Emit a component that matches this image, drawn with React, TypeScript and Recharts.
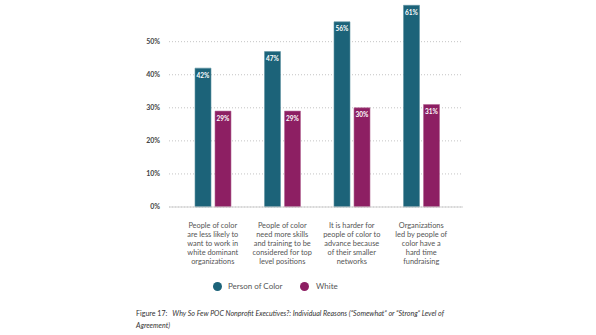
import React from "react";
import { BarChart, Bar, XAxis, YAxis, CartesianGrid, LabelList, Legend } from "recharts";

const categories = [
  "People of color are less likely to want to work in white dominant organizations",
  "People of color need more skills and training to be considered for top level positions",
  "It is harder for people of color to advance because of their smaller networks",
  "Organizations led by people of color have a hard time fundraising",
];
const categoryLines: string[][] = [
  ["People of color", "are less likely to", "want to work in", "white dominant", "organizations"],
  ["People of color", "need more skills", "and training to be", "considered for top", "level positions"],
  ["It is harder for", "people of color to", "advance because", "of their smaller", "networks"],
  ["Organizations", "led by people of", "color have a", "hard time", "fundraising"],
];
const personOfColor = [42, 47, 56, 61];
const white = [29, 29, 30, 31];
const yTicks = [0, 10, 20, 30, 40, 50];

const POC = "#1c6379";
const WHITE = "#8d1f63";
const FONT = "Lato, 'Open Sans', sans-serif";

const data = categories.map((c, i) => ({
  idx: i,
  name: c,
  poc: personOfColor[i],
  white: white[i],
}));

const CatTick = (props: any) => {
  const { x, y, payload } = props;
  const lines = categoryLines[payload.index] || [];
  return (
    <g>
      {lines.map((l, i) => (
        <text
          key={i}
          x={x}
          y={y + i * 9}
          textAnchor="middle"
          fontSize={7.4}
          fill="#555"
          fontFamily={FONT}
        >
          {l}
        </text>
      ))}
    </g>
  );
};

const LegendContent = () => (
  <div style={{ position: "relative", width: 596, height: 14, fontFamily: FONT, fontSize: 8, color: "#555" }}>
    <span style={{ position: "absolute", left: 213, top: 2, width: 9, height: 9, borderRadius: 5, background: POC }} />
    <span style={{ position: "absolute", left: 228, top: 1 }}>Person of Color</span>
    <span style={{ position: "absolute", left: 300, top: 2, width: 9, height: 9, borderRadius: 5, background: WHITE }} />
    <span style={{ position: "absolute", left: 316, top: 1 }}>White</span>
  </div>
);

export default function App() {
  return (
    <div style={{ position: "absolute", left: 0, top: 0, width: 596, height: 335, background: "#fff" }}>
      <BarChart
        width={596}
        height={335}
        data={data}
        margin={{ top: 2, right: 133, bottom: 58, left: 0 }}
        barSize={16}
        barGap={4}
        barCategoryGap={17}
      >
        <CartesianGrid vertical={false} syncWithTicks={true} stroke="#c4c4c4" strokeDasharray="1 2" />
        <XAxis
          dataKey="idx"
          type="category"
          height={70}
          tick={<CatTick />}
          tickLine={false}
          tickSize={0}
          tickMargin={21}
          axisLine={{ stroke: "#cfcfcf" }}
          padding={{ left: 9, right: 7 }}
          interval={0}
        />
        <YAxis
          width={169}
          domain={[0, 62]}
          ticks={yTicks}
          tickFormatter={(v: number) => `${v}%`}
          axisLine={false}
          tickLine={false}
          tickSize={0}
          tickMargin={9}
          tick={{ fontSize: 7, fontWeight: 700, fill: "#444", fontFamily: FONT }}
        />
        <Legend
          layout="vertical"
          align="center"
          verticalAlign="middle"
          content={<LegendContent />}
          wrapperStyle={{ position: "absolute", left: 0, top: 280, width: 596 }}
        />
        <Bar dataKey="poc" name="Person of Color" fill={POC} stroke="#5f93a3" strokeWidth={0.6} isAnimationActive={false}>
          <LabelList
            dataKey="poc"
            position="insideTop"
            offset={5}
            formatter={(v: any) => `${v}%`}
            style={{ fill: "#fff", fontSize: 6.5, fontWeight: 700, fontFamily: FONT }}
          />
        </Bar>
        <Bar dataKey="white" name="White" fill={WHITE} stroke="#b36896" strokeWidth={0.6} isAnimationActive={false}>
          <LabelList
            dataKey="white"
            position="insideTop"
            offset={5}
            formatter={(v: any) => `${v}%`}
            style={{ fill: "#fff", fontSize: 6.5, fontWeight: 700, fontFamily: FONT }}
          />
        </Bar>
      </BarChart>
      <div
        style={{
          position: "absolute",
          left: 136,
          top: 308,
          width: 330,
          fontFamily: FONT,
          fontSize: 7.1,
          lineHeight: "12px",
          color: "#333",
          whiteSpace: "nowrap",
        }}
      >
        <div>
          <span>Figure 17:</span>
          <span style={{ fontStyle: "italic", marginLeft: 5 }}>
            Why So Few POC Nonprofit Executives?: Individual Reasons (“Somewhat” or “Strong” Level of
          </span>
        </div>
        <div style={{ fontStyle: "italic" }}>Agreement)</div>
      </div>
    </div>
  );
}
